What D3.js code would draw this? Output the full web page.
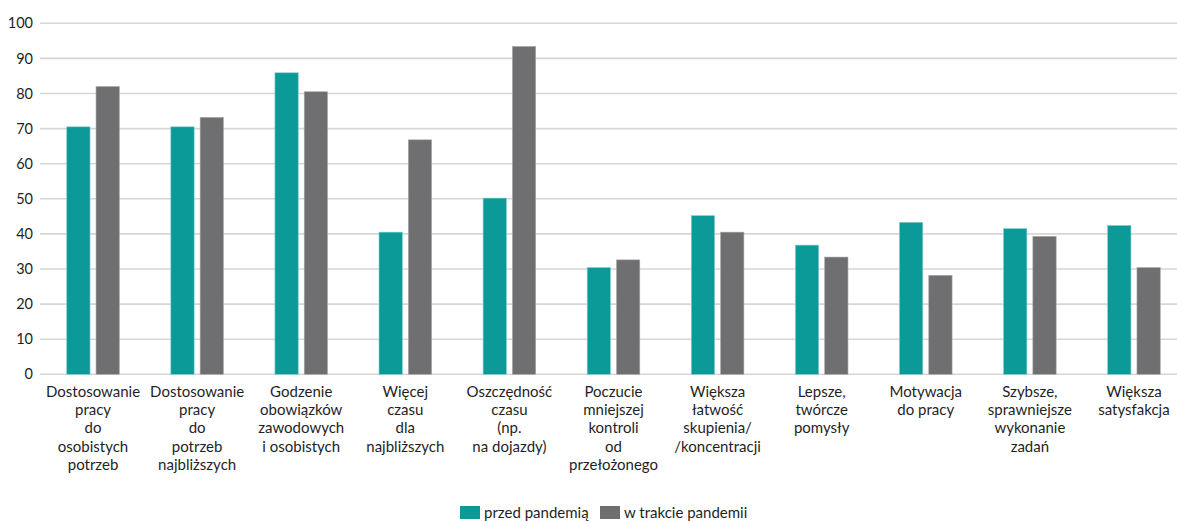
<!DOCTYPE html>
<meta charset="utf-8">
<style>
    body { margin: 0; background: #fff; }
    .tick line { visibility: hidden; }
    .domain { visibility: hidden; }
    text { font-family: Lato, "Open Sans", sans-serif; fill: #1f1f1f; }
</style>
<script src="https://d3js.org/d3.v7.min.js"></script>
<div id="svg-holder"></div>
<script>

    /* Data */
    // category labels, one entry per line as they are wrapped in the chart
    var categories = [
        ["Dostosowanie", "pracy", "do", "osobistych", "potrzeb"],
        ["Dostosowanie", "pracy", "do", "potrzeb", "najbliższych"],
        ["Godzenie", "obowiązków", "zawodowych", "i osobistych"],
        ["Więcej", "czasu", "dla", "najbliższych"],
        ["Oszczędność", "czasu", "(np.", "na dojazdy)"],
        ["Poczucie", "mniejszej", "kontroli", "od", "przełożonego"],
        ["Większa", "łatwość", "skupienia/", "/koncentracji"],
        ["Lepsze,", "twórcze", "pomysły"],
        ["Motywacja", "do pracy"],
        ["Szybsze,", "sprawniejsze", "wykonanie", "zadań"],
        ["Większa", "satysfakcja"]
    ];
    var series_names = ["przed pandemią", "w trakcie pandemii"];
    var before = [70.5, 70.5, 85.9, 40.5, 50.2, 30.4, 45.2, 36.8, 43.3, 41.5, 42.4];
    var during = [82.0, 73.2, 80.5, 66.8, 93.4, 32.6, 40.5, 33.4, 28.2, 39.3, 30.4];
    var y_ticks = [0, 10, 20, 30, 40, 50, 60, 70, 80, 90, 100];

    var colors = ["#0c9a98", "#6f6f71"];
    var width = 1177, height = 521;

    var frame = d3.select("#svg-holder").append("svg")
        .attr("width", width).attr("height", height);

    // Scales.
    var x = d3.scaleBand()
        .domain(d3.range(categories.length))
        .range([41, 1186]);
    var y = d3.scaleLinear().domain([0, 100]).range([374.3, 23.3]);
    var bar_w = 23.3, bar_gap = 6;

    // Grid lines.
    frame.append("g").selectAll("line").data(y_ticks).join("line")
        .attr("x1", 40).attr("x2", width)
        .attr("y1", function(d) { return y(d); }).attr("y2", function(d) { return y(d); })
        .attr("stroke", "#d6d6d6")
        .attr("stroke-width", 1.6);

    // Y axis labels.
    var y_axis = d3.axisLeft(y).tickValues(y_ticks).tickSize(0).tickPadding(0);
    frame.append("g").attr("transform", "translate(33,0)").call(y_axis)
        .selectAll("text").attr("font-size", "14.5px")
        .attr("font-family", "Lato, 'Open Sans', sans-serif").attr("fill", "#1f1f1f");

    // Bars.
    var series = [before, during];
    series.forEach(function(vals, s) {
        frame.append("g").selectAll("rect").data(vals).join("rect")
            .attr("x", function(d, i) {
                var c = x(i) + x.bandwidth() / 2;
                return s === 0 ? c - bar_gap / 2 - bar_w : c + bar_gap / 2;
            })
            .attr("y", function(d) { return y(d); })
            .attr("width", bar_w)
            .attr("height", function(d) { return y(0) - y(d); })
            .attr("fill", colors[s])
            .attr("stroke", s === 0 ? "#7fcfcc" : "#a8a8aa")
            .attr("stroke-width", 0.6);
    });

    // Category labels.
    categories.forEach(function(lines, i) {
        var t = frame.append("text")
            .attr("x", x(i) + x.bandwidth() / 2)
            .attr("y", 397)
            .attr("text-anchor", "middle")
            .attr("font-size", "15px");
        lines.forEach(function(l, j) {
            t.append("tspan").attr("x", x(i) + x.bandwidth() / 2)
                .attr("dy", j === 0 ? 0 : 18.2).text(l);
        });
    });

    // Legend.
    var legend_x = [460, 600];
    series_names.forEach(function(name, s) {
        var g = frame.append("g").attr("transform", "translate(" + legend_x[s] + ",506)");
        g.append("rect").attr("width", 20).attr("height", 13).attr("fill", colors[s]);
        g.append("text").attr("x", 24).attr("y", 12).attr("font-size", "15px").text(name);
    });

</script>
